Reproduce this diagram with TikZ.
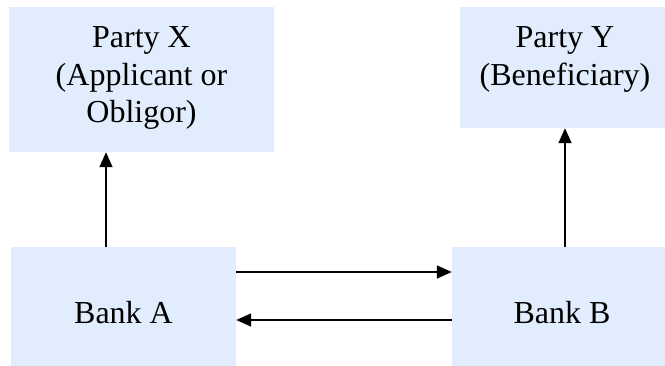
\documentclass[tikz,border=0pt]{standalone}
\usepackage{fontspec}
\setmainfont{Liberation Serif}
\usetikzlibrary{arrows.meta}
\definecolor{boxblue}{RGB}{225,237,252}
\tikzset{
  box/.style={fill=boxblue, draw=none, rectangle, inner sep=0pt},
  txt/.style={inner sep=0pt, align=center, font=\fontsize{32}{37.5}\selectfont},
  arr/.style={draw=black, line width=1.5pt, -{Triangle[length=15pt,width=13pt]}}
}
\begin{document}
\begin{tikzpicture}[x=1pt,y=-1pt]
\useasboundingbox (0,0) rectangle (665,365);
\clip (0,0) rectangle (665,365);
% boxes
\node[box, minimum width=265pt, minimum height=145pt] (PX) at (141.5,79.5) {};
\node[box, minimum width=210pt, minimum height=121pt] (PY) at (565,67.5) {};
\node[box, minimum width=225pt, minimum height=132pt] (BA) at (123.5,313) {};
\node[box, minimum width=220pt, minimum height=132pt] (BB) at (562,313) {};
% texts
\node[txt, anchor=north] (tPX) at (141.5,26.5) {Party X\\(Applicant or\\Obligor)};
\node[txt, anchor=north] (tPY) at (565,26.5) {Party Y\\(Beneficiary)};
\node[txt, anchor=base] (tBA) at (123.5,323.5) {Bank A};
\node[txt, anchor=base] (tBB) at (562,323.5) {Bank B};
% connector coordinates
\coordinate (xa) at (106,0);
\coordinate (xb) at (565,0);
\coordinate (yt) at (0,272);
\coordinate (yb) at (0,320);
\draw[arr] (BA.north -| xa) -- (PX.south -| xa);
\draw[arr] (BB.north -| xb) -- (PY.south -| xb);
\draw[arr] (BA.east |- yt) -- (BB.west |- yt);
\draw[arr] (BB.west |- yb) -- (BA.east |- yb);
\end{tikzpicture}
\end{document}
